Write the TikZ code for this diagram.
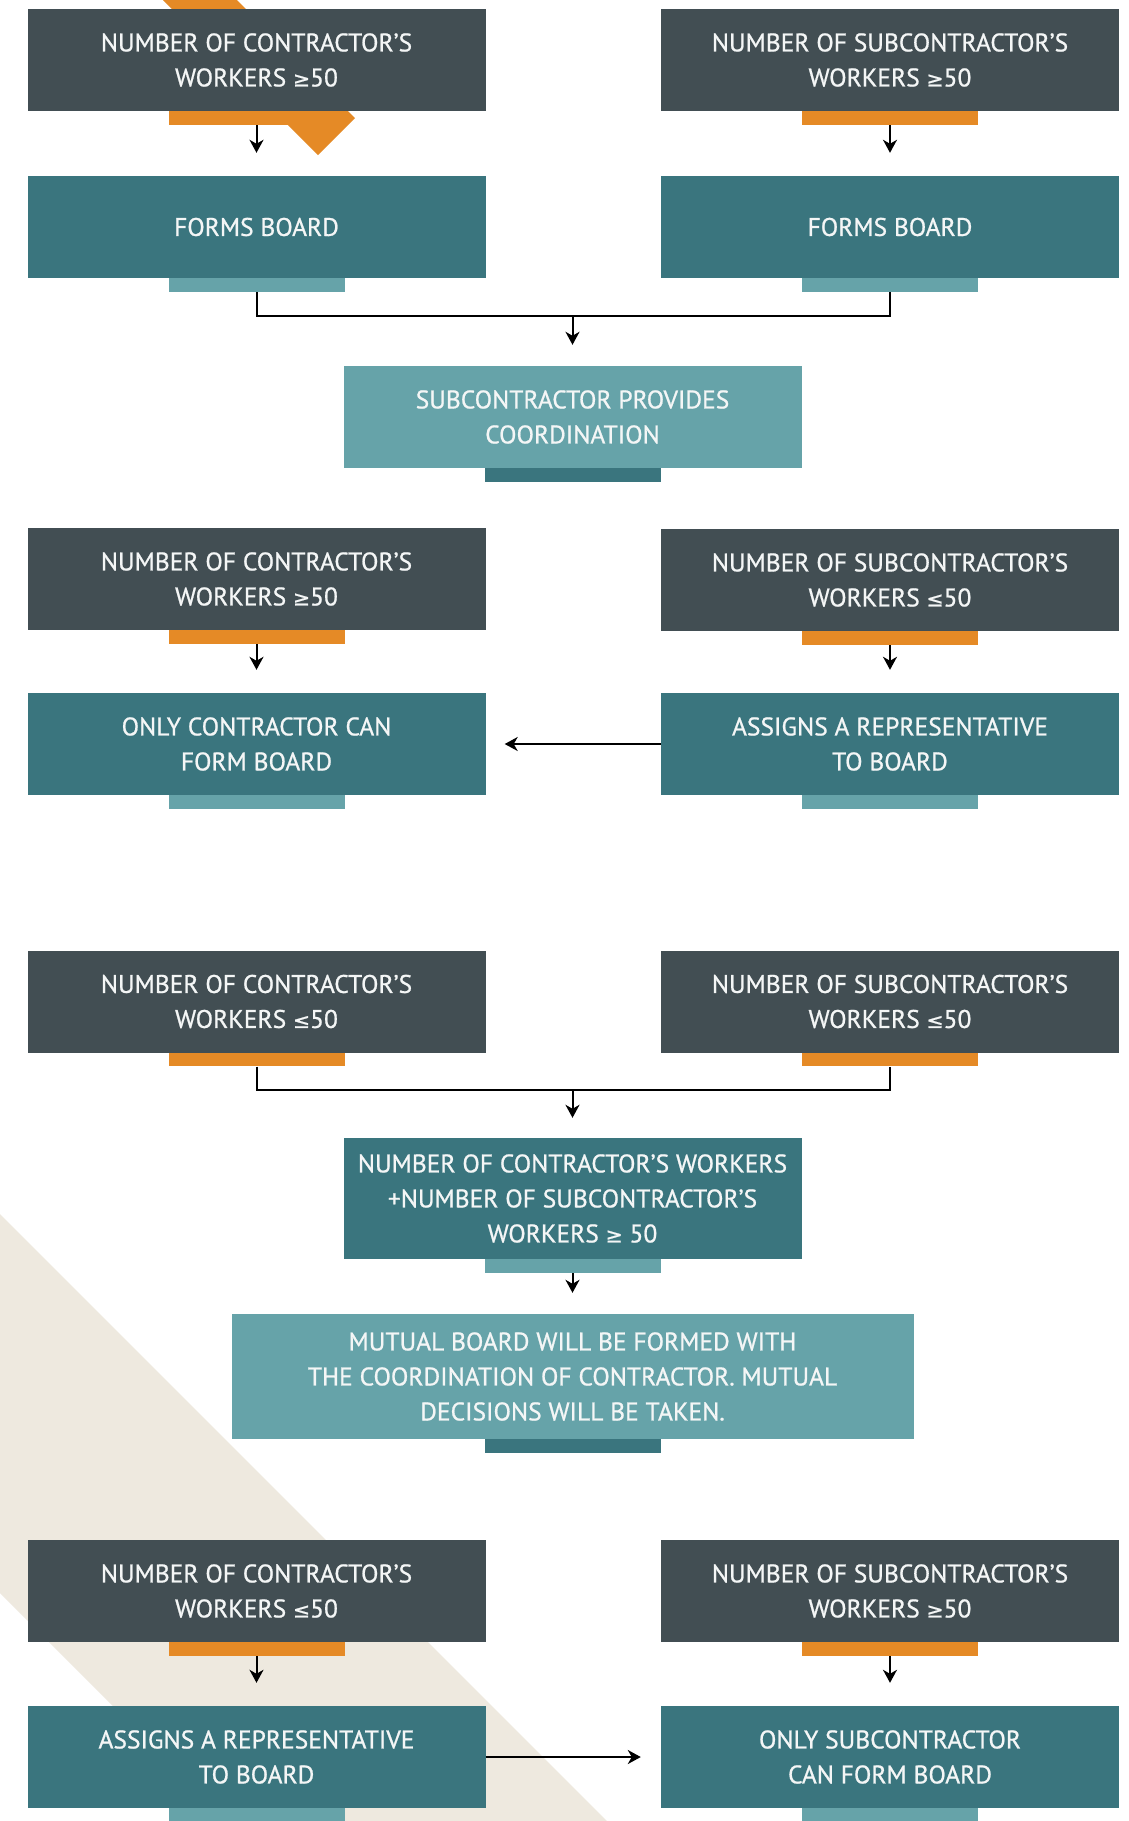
\documentclass[tikz,border=0pt]{standalone}
\usepackage{fontspec}
\setmainfont{PT Sans}
\newfontfamily\boxfont{PT Sans}[FakeBold=0.8]
\newfontfamily\relfont{DejaVu Sans}[Scale=0.8, FakeBold=0.8]
\newcommand{\gte}{{\relfont ≥}}
\newcommand{\lte}{{\relfont ≤}}
\usetikzlibrary{positioning,arrows.meta}

\definecolor{slateFill}{HTML}{424E53}
\definecolor{tealFill}{HTML}{3A757E}
\definecolor{paleFill}{HTML}{66A3A9}
\definecolor{orangeTab}{HTML}{E58A26}
\definecolor{sandBand}{HTML}{EEE9DF}
\definecolor{boxText}{HTML}{F4F6F6}

\begin{document}
\begin{tikzpicture}[
    x=1pt, y=-1pt,
    font=\boxfont\fontsize{25.5}{35}\selectfont,
    box/.style={rectangle, inner sep=0pt, text=boxText, align=center,
                minimum width=458pt, minimum height=102pt},
    cond/.style={box, fill=slateFill},
    result/.style={box, fill=tealFill},
    remark/.style={box, fill=paleFill},
    tabbar/.style={rectangle, inner sep=0pt, anchor=north,
                   minimum width=176pt, minimum height=13.5pt},
    tabOrange/.style={tabbar, fill=orangeTab},
    tabPale/.style={tabbar, fill=paleFill},
    tabTeal/.style={tabbar, fill=tealFill},
    flow/.style={line width=2pt, -{Stealth[length=13pt, width=14pt, inset=4pt]},
                 shorten >=23pt},
    merge/.style={line width=2pt},
  ]

  % Column x-positions
  \def\cA{256.5}\def\cB{890}\def\cM{572.5}

  % BACKGROUND
  \useasboundingbox (0,0) rectangle (1129,1821);
  \fill[white] (0,0) rectangle (1129,1821);
  \fill[sandBand] (0,1214) -- (607,1821) -- (228,1821) -- (0,1593) -- cycle;
  \fill[orangeTab] (163,0) -- (318,155) -- (355,118) -- (237,0) -- cycle;

  % BOTH >= 50
  \node[cond] (conA1) at (\cA, 60) {NUMBER OF CONTRACTOR’S\\WORKERS \gte50};
  \node[tabOrange] (tabA1) at (conA1.south) {};
  \node[cond] (conB1) at (\cB, 60) {NUMBER OF SUBCONTRACTOR’S\\WORKERS \gte50};
  \node[tabOrange] (tabB1) at (conB1.south) {};
  \node[result] (formA1) at (\cA, 227) {FORMS BOARD};
  \node[tabPale] (tabA2) at (formA1.south) {};
  \node[result] (formB1) at (\cB, 227) {FORMS BOARD};
  \node[tabPale] (tabB2) at (formB1.south) {};
  \node[remark] (coord) at (\cM, 417) {SUBCONTRACTOR PROVIDES\\COORDINATION};
  \node[tabTeal] (tabC) at (coord.south) {};

  \draw[flow] (tabA1.south) -- (formA1.north);
  \draw[flow] (tabB1.south) -- (formB1.north);
  \coordinate (mergeA) at (\cM, 316);
  \draw[merge] (tabA2.south) |- (mergeA) -| (tabB2.south);
  \draw[flow, shorten >=21pt] (mergeA) -- (coord.north);

  % CONTRACTOR >= 50, SUBCONTRACTOR <= 50
  \node[cond] (conA2) at (\cA, 579) {NUMBER OF CONTRACTOR’S\\WORKERS \gte50};
  \node[tabOrange] (tabA3) at (conA2.south) {};
  \node[cond] (conB2) at (\cB, 580) {NUMBER OF SUBCONTRACTOR’S\\WORKERS \lte50};
  \node[tabOrange] (tabB3) at (conB2.south) {};
  \node[result] (onlyA) at (\cA, 744) {ONLY CONTRACTOR CAN\\FORM BOARD};
  \node[tabPale] (tabA4) at (onlyA.south) {};
  \node[result] (repB) at (\cB, 744) {ASSIGNS A REPRESENTATIVE\\TO BOARD};
  \node[tabPale] (tabB4) at (repB.south) {};

  \draw[flow] (tabA3.south) -- (onlyA.north);
  \draw[flow] (tabB3.south) -- (repB.north);
  \draw[flow, shorten >=19pt] (repB.west) -- (onlyA.east);

  % BOTH <= 50
  \node[cond] (conA3) at (\cA, 1001.5) {NUMBER OF CONTRACTOR’S\\WORKERS \lte50};
  \node[tabOrange] (tabA5) at (conA3.south) {};
  \node[cond] (conB3) at (\cB, 1001.5) {NUMBER OF SUBCONTRACTOR’S\\WORKERS \lte50};
  \node[tabOrange] (tabB5) at (conB3.south) {};
  \node[result, minimum height=121pt] (total) at (\cM, 1198.5)
    {NUMBER OF CONTRACTOR’S WORKERS\\+NUMBER OF SUBCONTRACTOR’S\\WORKERS \gte{} 50};
  \node[tabPale] (tabT) at (total.south) {};
  \node[remark, minimum width=682pt, minimum height=125pt] (mutual) at (\cM, 1376.5)
    {MUTUAL BOARD WILL BE FORMED WITH\\THE COORDINATION OF CONTRACTOR. MUTUAL\\DECISIONS WILL BE TAKEN.};
  \node[tabTeal] (tabM) at (mutual.south) {};

  \coordinate (mergeB) at (\cM, 1089.5);
  \draw[merge] (tabA5.south) |- (mergeB) -| (tabB5.south);
  \draw[flow, shorten >=20pt] (mergeB) -- (total.north);
  \draw[flow, shorten >=21pt] (tabT.south) -- (mutual.north);

  % CONTRACTOR <= 50, SUBCONTRACTOR >= 50
  \node[cond] (conA4) at (\cA, 1591) {NUMBER OF CONTRACTOR’S\\WORKERS \lte50};
  \node[tabOrange] (tabA6) at (conA4.south) {};
  \node[cond] (conB4) at (\cB, 1591) {NUMBER OF SUBCONTRACTOR’S\\WORKERS \gte50};
  \node[tabOrange] (tabB6) at (conB4.south) {};
  \node[result] (repA) at (\cA, 1757) {ASSIGNS A REPRESENTATIVE\\TO BOARD};
  \node[tabPale] (tabA7) at (repA.south) {};
  \node[result] (onlyB) at (\cB, 1757) {ONLY SUBCONTRACTOR\\CAN FORM BOARD};
  \node[tabPale] (tabB7) at (onlyB.south) {};

  \draw[flow] (tabA6.south) -- (repA.north);
  \draw[flow] (tabB6.south) -- (onlyB.north);
  \draw[flow, shorten >=20pt] (repA.east) -- (onlyB.west);

\end{tikzpicture}
\end{document}
